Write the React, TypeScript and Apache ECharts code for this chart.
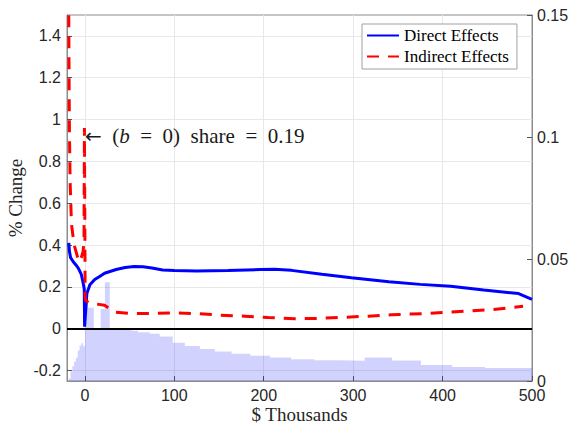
import React, { useEffect, useRef } from "react";
import * as echarts from "echarts";

// ---- data ----
const directX = [-18, -17.3, -16, -13, -10, -7.4, -4, -2, -0.7, -0.3, 2.2, 5.6, 11, 16.5, 22, 35, 45, 55, 65, 75, 87, 100, 125, 160, 196, 212, 231, 265, 298, 340, 375, 409, 446, 485, 500];
const directY = [0.41, 0.37, 0.34, 0.32, 0.305, 0.29, 0.26, 0.22, 0.19, 0.01, 0.168, 0.21, 0.235, 0.25, 0.265, 0.283, 0.293, 0.298, 0.296, 0.29, 0.281, 0.278, 0.276, 0.278, 0.283, 0.284, 0.279, 0.26, 0.244, 0.225, 0.212, 0.203, 0.185, 0.168, 0.14];

const indirectX = [-18.3, -17.8, -17.3, -16.5, -15, -12, -8, -6, -4, -2, -1, -0.5, 0.3, 1, 4, 10, 22, 28, 33, 50, 72, 98, 125, 151, 179, 205, 235, 261, 291, 317, 343, 379, 401, 428, 457, 490];
const indirectY = [1.7, 1.3, 0.95, 0.7, 0.5, 0.4, 0.34, 0.32, 0.34, 0.37, 0.42, 0.96, 0.15, 0.135, 0.125, 0.12, 0.112, 0.095, 0.08, 0.073, 0.073, 0.076, 0.072, 0.065, 0.06, 0.054, 0.048, 0.049, 0.055, 0.06, 0.067, 0.072, 0.078, 0.084, 0.092, 0.107];

// histogram: left bin edges and heights (right axis)
const histEdges = [-18, -16, -14, -12, -10, -8, -6, -4, -2, 0, 3.5, 10, 17.6, 22.4, 27.8, 42.6, 52, 59.4, 72.5, 83.7, 98.3, 111.8, 128.6, 145.4, 164, 185, 207, 230.6, 256.4, 283.6, 312.8, 343.5, 375.8, 410.8, 447.5];
const histHeights = [0.001, 0.004, 0.006, 0.008, 0.0095, 0.0125, 0.0145, 0.0155, 0.0142, 0.032, 0.03, 0.0214, 0.0295, 0.0405, 0.0212, 0.0209, 0.0206, 0.02, 0.0194, 0.0182, 0.0157, 0.0143, 0.0131, 0.0121, 0.0112, 0.0103, 0.0096, 0.0089, 0.0085, 0.0083, 0.0096, 0.0084, 0.0066, 0.0057, 0.0053];
const histEnd = 500;

const xTicks = [0, 100, 200, 300, 400, 500];
const yLeftTicks = [-0.2, 0, 0.2, 0.4, 0.6, 0.8, 1, 1.2, 1.4];

const SANS = "'Liberation Sans', Arial, Helvetica, sans-serif";
const SERIF = "'Liberation Serif', 'Times New Roman', serif";
const AXIS_GREY = "#8c8c8c";
const GRID_GREY = "#e8e8e8";

export default function App() {
  const ref = useRef<HTMLDivElement>(null);
  useEffect(() => {
    if (!ref.current) return;
    const chart = echarts.init(ref.current, null, { renderer: "svg" });
    const directData = directX.map((x, i) => [x, directY[i]]);
    const indirectData = indirectX.map((x, i) => [x, indirectY[i]]);
    const histData = histEdges.map((x, i) => [x, histHeights[i]]);
    histData.push([histEnd, histHeights[histHeights.length - 1]]);

    chart.setOption({
      animation: false,
      backgroundColor: "#ffffff",
      grid: {
        left: 67,
        right: 38,
        top: 15,
        bottom: 44,
        containLabel: false,
        outerBoundsMode: "none",
        show: true,
        borderColor: AXIS_GREY,
        borderWidth: 1,
        backgroundColor: "transparent",
      },
      legend: {
        data: ["Direct Effects", "Indirect Effects"],
        orient: "vertical",
        left: 362,
        top: 24,
        backgroundColor: "#ffffff",
        borderColor: "#a0a0a0",
        borderWidth: 1,
        borderRadius: 0,
        padding: [3, 8, 4, 4],
        itemGap: 4,
        itemWidth: 32,
        itemHeight: 14,
        itemStyle: { opacity: 0 },
        textStyle: { fontFamily: SERIF, fontSize: 17, color: "#000" },
      },
      xAxis: {
        type: "value",
        min: -20,
        max: 500,
        name: "$ Thousands",
        nameLocation: "middle",
        nameGap: 24,
        nameMoveOverlap: false,
        nameTextStyle: { fontFamily: SERIF, fontSize: 19, color: "#262626" },
        axisLine: { show: true, onZero: false, lineStyle: { color: AXIS_GREY } },
        axisTick: { show: true, inside: true, length: 5, customValues: xTicks, lineStyle: { color: "#555" } },
        axisLabel: { customValues: xTicks, fontFamily: SANS, fontSize: 16, color: "#262626", margin: 6, showMaxLabel: true },
        splitLine: { show: true, lineStyle: { color: GRID_GREY, width: 1 } },
      },
      yAxis: [
        {
          type: "value",
          min: -0.25,
          max: 1.5,
          name: "% Change",
          nameLocation: "middle",
          nameGap: 42,
          nameMoveOverlap: false,
          nameRotate: 90,
          nameTextStyle: { fontFamily: SERIF, fontSize: 19, color: "#262626" },
          axisLine: { show: true, onZero: false, lineStyle: { color: AXIS_GREY } },
          axisTick: { show: true, inside: true, length: 5, customValues: yLeftTicks, lineStyle: { color: "#555" } },
          axisLabel: { customValues: yLeftTicks, fontFamily: SANS, fontSize: 16, color: "#262626", margin: 6 },
          splitLine: { show: true, lineStyle: { color: GRID_GREY, width: 1 } },
        },
        {
          type: "value",
          min: 0,
          max: 0.15,
          interval: 0.05,
          position: "right",
          axisLine: { show: true, onZero: false, lineStyle: { color: AXIS_GREY } },
          axisTick: { show: true, inside: true, length: 5, lineStyle: { color: "#555" } },
          axisLabel: { fontFamily: SANS, fontSize: 16, color: "#262626", margin: 5 },
          splitLine: { show: false },
        },
      ],
      series: [
        {
          name: "Histogram",
          type: "line",
          yAxisIndex: 1,
          step: "end",
          data: histData,
          symbol: "none",
          silent: true,
          lineStyle: { width: 0, color: "rgba(0,0,255,0.25)" },
          areaStyle: { color: "rgba(0,0,255,0.25)", origin: "start" },
          z: 1,
        },
        {
          name: "Zero",
          type: "line",
          data: [],
          symbol: "none",
          silent: true,
          markLine: {
            silent: true,
            symbol: "none",
            label: { show: false },
            lineStyle: { color: "#000", width: 2, type: "solid" },
            data: [{ yAxis: 0 }],
          },
          z: 2,
        },
        {
          name: "Direct Effects",
          type: "line",
          data: directData,
          symbol: "none",
          showSymbol: false,
          lineStyle: { color: "#0000ff", width: 3 },
          itemStyle: { color: "#0000ff" },
          z: 3,
        },
        {
          name: "Indirect Effects",
          type: "line",
          data: indirectData,
          symbol: "none",
          showSymbol: false,
          lineStyle: { color: "#ff0000", width: 3, type: [12, 9] },
          itemStyle: { color: "#ff0000" },
          z: 4,
        },
      ],
      graphic: [
        {
          type: "text",
          x: 85,
          y: 136,
          silent: true,
          style: {
            text: "{a|\u2190}{n|\u2002(}{i|b}{n|\u2002=\u20020)\u2002share\u2002=\u20020.19}",
            verticalAlign: "middle",
            rich: {
              a: { fontFamily: "'DejaVu Sans', sans-serif", fontSize: 20, fill: "#1a1a1a" },
              n: { fontFamily: SERIF, fontSize: 21, fill: "#1a1a1a" },
              i: { fontFamily: SERIF, fontSize: 21, fontStyle: "italic", fill: "#1a1a1a" },
            },
          },
          z: 10,
        },
      ],
    });
    return () => chart.dispose();
  }, []);
  return (
    <div
      ref={ref}
      style={{ position: "fixed", left: 0, top: 0, width: 570, height: 425 }}
    />
  );
}
